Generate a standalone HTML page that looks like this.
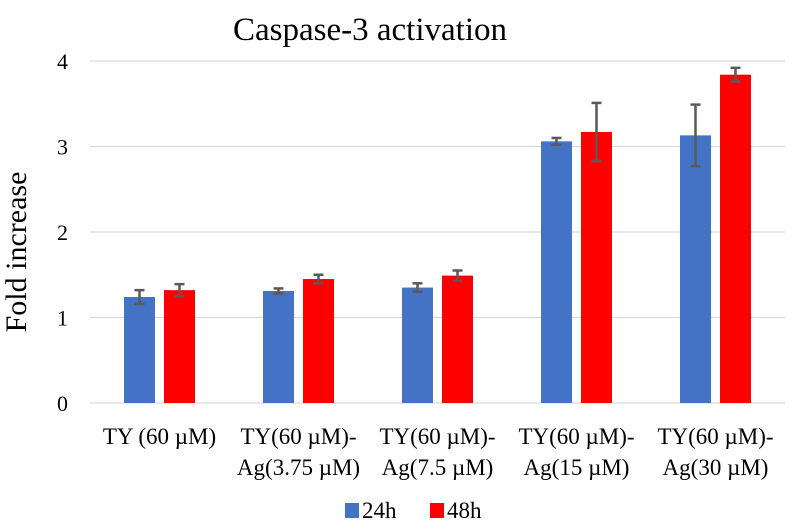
<!DOCTYPE html>
<html><head><meta charset="utf-8"><style>
body{margin:0;background:#fff}
svg{display:block;font-family:"Liberation Serif",serif}
</style></head><body>
<svg id="chart" width="793" height="531">
<text x="370" y="40" font-size="33" text-anchor="middle" fill="#000">Caspase-3 activation</text>
<text transform="translate(26,252) rotate(-90)" font-size="30" text-anchor="middle" fill="#000">Fold increase</text>
<g id="grid"></g><g id="bars"></g><g id="labels"></g>
<g>
<rect x="345" y="503" width="14" height="15" fill="#4472c4"/>
<text x="362" y="518" font-size="23">24h</text>
<rect x="430" y="503" width="14" height="15" fill="#ff0000"/>
<text x="447" y="518" font-size="23">48h</text>
</g>
</svg>
<script>
const categoriesLine1=["TY (60 \u00b5M)","TY(60 \u00b5M)-","TY(60 \u00b5M)-","TY(60 \u00b5M)-","TY(60 \u00b5M)-"];
const categoriesLine2=["","Ag(3.75 \u00b5M)","Ag(7.5 \u00b5M)","Ag(15 \u00b5M)","Ag(30 \u00b5M)"];
const values24h=[1.24,1.31,1.35,3.06,3.13];
const values48h=[1.32,1.45,1.49,3.17,3.84];
const err24h=[0.08,0.03,0.05,0.04,0.36];
const err48h=[0.07,0.05,0.06,0.34,0.08];
const yTicks=[0,1,2,3,4];
const NS="http://www.w3.org/2000/svg";
const L=90,R=785,Y0=403,U=85.5;
const y=v=>Y0-v*U;
const gw=(R-L)/categoriesLine1.length;
const cx=i=>L+gw*(i+0.5);
function mk(tag,attrs,parent){const e=document.createElementNS(NS,tag);for(const k in attrs)e.setAttribute(k,attrs[k]);document.getElementById(parent).appendChild(e);return e;}
yTicks.forEach(t=>{
 const l=mk('line',{x1:L,x2:R,y1:y(t),y2:y(t),stroke:'#d9d9d9','stroke-width':1.3},'grid');
 
 
 const tx=mk('text',{x:68,y:y(t)+8,'font-size':22,'text-anchor':'end'},'grid');
 tx.textContent=t;
 
 
});
const bw=31,gap=9;
function bar(i,v,e,color,off,name){
 const x=cx(i)+off;
 const r=mk('rect',{x:x,y:y(v),width:bw,height:Y0-y(v),fill:color},'bars');
 
 
 const m=x+bw/2;
 const g=mk('g',{stroke:'#595959','stroke-width':2.5},'bars');
 
 
 [[m,y(v+e),m,y(v-e)],[m-5,y(v+e),m+5,y(v+e)],[m-5,y(v-e),m+5,y(v-e)]].forEach(c=>{
  const l=document.createElementNS(NS,'line');l.setAttribute('x1',c[0]);l.setAttribute('y1',c[1]);l.setAttribute('x2',c[2]);l.setAttribute('y2',c[3]);g.appendChild(l);});
}
values24h.forEach((v,i)=>bar(i,v,err24h[i],'#4472c4',-bw-gap/2,'24h'));
values48h.forEach((v,i)=>bar(i,v,err48h[i],'#ff0000',gap/2,'48h'));
categoriesLine1.forEach((c,i)=>{
 const t=mk('text',{x:cx(i),y:444,'font-size':23,'text-anchor':'middle'},'labels');
 t.textContent=c;
 
 
 if(categoriesLine2[i]){
  const t2=mk('text',{x:cx(i),y:475,'font-size':23,'text-anchor':'middle'},'labels');
  t2.textContent=categoriesLine2[i];
  
  
 }
});
</script>
</body></html>
